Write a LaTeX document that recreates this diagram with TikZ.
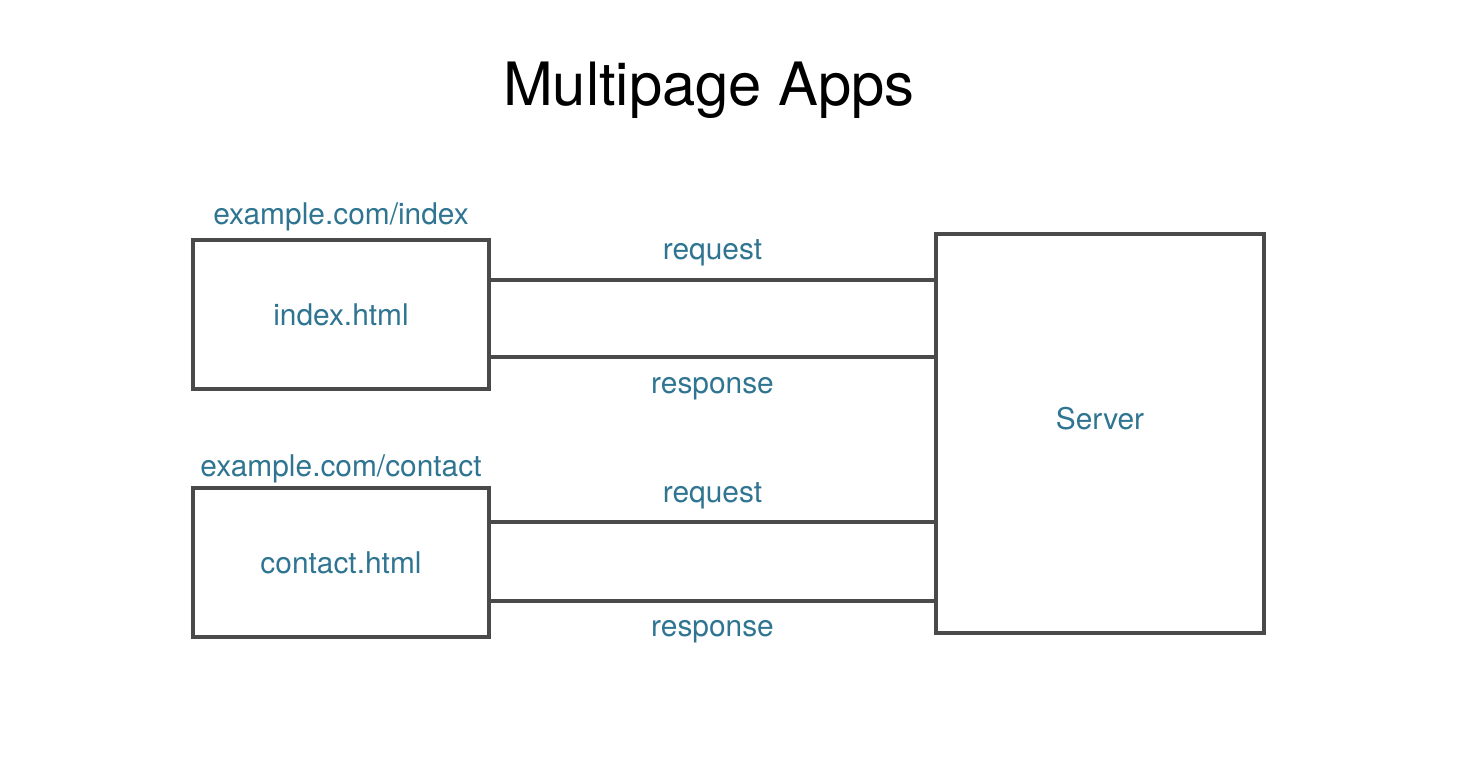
\documentclass[tikz,border=0pt]{standalone}
\usepackage{fontspec}
\setmainfont{TeX Gyre Heros}
\usepackage{xcolor}
\usetikzlibrary{positioning,calc}
\definecolor{labelblue}{RGB}{47,117,145}
\definecolor{linegray}{RGB}{74,74,74}

\begin{document}
\begin{tikzpicture}[x=0.02cm, y=-0.02cm]
      \tikzset{font=\fontsize{17pt}{20pt}\selectfont}
      \tikzset{page/.style = {shape=rectangle,draw=linegray,line width=2pt,minimum width=5.92cm,minimum height=2.98cm,text=labelblue}}
      \tikzset{server/.style = {page,minimum width=6.56cm,minimum height=7.98cm}}
      \tikzset{url/.style = {text=labelblue,inner sep=0pt}}
      \tikzset{wire/.style = {draw=linegray,line width=2pt}}
      \tikzset{msg/.style = {text=labelblue,midway}}

      \useasboundingbox (0,0) rectangle (1484,772);

      \node[font=\fontsize{34pt}{40pt}\selectfont] (title) at (709,90) {Multipage Apps};

      \node[page] (index) at (341,314.5) {index.html};
      \node[page] (contact) at (341,562.5) {contact.html};
      \node[server] (srv) at (1100,433.5) {};
      \node[url] (srvname) at ([yshift=0.3cm]srv.center) {Server};

      \node[url] (u1) [above=0.14cm of index] {example.com/index};
      \node[url] (u2) [above=0.06cm of contact] {example.com/contact};

      % index.html <-> server
      \draw[wire] ([yshift=0.69cm]index.east) -- ([yshift=0.69cm]index.east -| srv.west)
            node[msg,yshift=0.54cm] {request};
      \draw[wire] ([yshift=-0.85cm]index.east) -- ([yshift=-0.85cm]index.east -| srv.west)
            node[msg,yshift=-0.64cm] {response};

      % contact.html <-> server
      \draw[wire] ([yshift=0.81cm]contact.east) -- ([yshift=0.81cm]contact.east -| srv.west)
            node[msg,yshift=0.52cm] {request};
      \draw[wire] ([yshift=-0.77cm]contact.east) -- ([yshift=-0.77cm]contact.east -| srv.west)
            node[msg,yshift=-0.62cm] {response};
\end{tikzpicture}
\end{document}
